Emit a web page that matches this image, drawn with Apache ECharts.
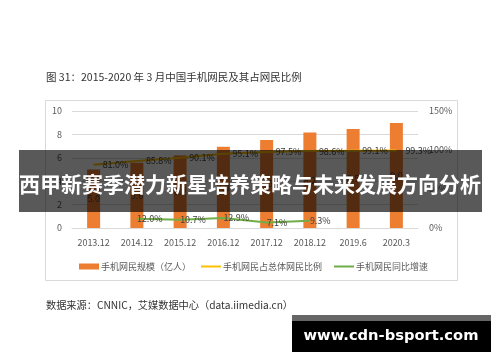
<!DOCTYPE html>
<html>
<head>
<meta charset="utf-8">
<script src="https://cdn.jsdelivr.net/npm/echarts@6/dist/echarts.min.js"></script>
<style>
html,body{margin:0;padding:0;background:#fff;}
#c{width:500px;height:362px;}
</style>
</head>
<body>
<div id="c"></div>
<script>
const categories = ['2013.12','2014.12','2015.12','2016.12','2017.12','2018.12','2019.6','2020.3'];
const mobileUsers = [5.00, 5.57, 6.20, 6.95, 7.53, 8.17, 8.47, 8.97];
const shareOfUsers = [81.0, 85.8, 90.1, 95.1, 97.5, 98.6, 99.1, 99.3];
const yoyGrowth = [null, 12.0, 10.7, 12.9, 7.1, 9.3, null, null];
const leftTicks = {min: 0, max: 10, interval: 2};
const rightTicks = {min: 0, max: 150, interval: 50};
const seriesNames = ['手机网民规模（亿人）', '手机网民占总体网民比例', '手机网民同比增速'];
const titleText = '图 31：2015-2020 年 3 月中国手机网民及其占网民比例';
const sourceText = '数据来源：CNNIC，艾媒数据中心（data.iimedia.cn）';
const bannerText = '西甲新赛季潜力新星培养策略与未来发展方向分析';
const urlText = 'www.cdn-bsport.com';

const FONT = '"Noto Sans CJK SC", "Noto Sans", sans-serif';
const chart = echarts.init(document.getElementById('c'), null, {renderer: 'canvas'});
const axisLabel = {color: '#595959', fontSize: 9, fontFamily: FONT};
const lineIcon = 'path://M0,0H20V2H0Z';
const legendText = {color: '#595959', fontSize: 9, fontFamily: FONT, padding: [0,0,0,-3]};

chart.setOption({
  animation: false,
  textStyle: {fontFamily: FONT},
  title: {
    text: titleText, left: 46, top: 72, padding: 0,
    textStyle: {fontSize: 10.5, fontWeight: 'normal', color: '#333', fontFamily: FONT}
  },
  grid: {left: 72, right: 82, top: 111, bottom: 134},
  legend: [
    {left: 79, top: 262, padding: 0, itemWidth: 20, itemHeight: 6, itemGap: 0,
     data: [{name: seriesNames[0], icon: 'rect'}], textStyle: legendText},
    {left: 201, top: 262, padding: 0, itemWidth: 20, itemHeight: 6, itemGap: 0,
     data: [{name: seriesNames[1], icon: lineIcon}], textStyle: legendText},
    {left: 334, top: 262, padding: 0, itemWidth: 20, itemHeight: 6, itemGap: 0,
     data: [{name: seriesNames[2], icon: lineIcon}], textStyle: legendText}
  ],
  xAxis: {
    type: 'category', data: categories,
    axisLine: {lineStyle: {color: '#d9d9d9'}},
    axisTick: {show: false},
    axisLabel: Object.assign({margin: 10}, axisLabel)
  },
  yAxis: [
    {type: 'value', min: leftTicks.min, max: leftTicks.max, interval: leftTicks.interval,
     axisLine: {show: false}, axisTick: {show: false},
     axisLabel: Object.assign({margin: 10}, axisLabel),
     splitLine: {lineStyle: {color: '#d9d9d9'}}},
    {type: 'value', min: rightTicks.min, max: rightTicks.max, interval: rightTicks.interval,
     axisLine: {show: false}, axisTick: {show: false},
     axisLabel: Object.assign({margin: 11, formatter: '{value}%'}, axisLabel),
     splitLine: {show: false}}
  ],
  series: [
    {name: seriesNames[0], type: 'bar', data: mobileUsers, barWidth: 13, yAxisIndex: 0,
     itemStyle: {color: '#ED7D31'},
     label: {show: true, position: 'inside', color: '#404040', fontSize: 9, fontFamily: FONT,
             formatter: p => p.value.toFixed(1)}},
    {name: seriesNames[1], type: 'line', data: shareOfUsers, yAxisIndex: 1,
     symbol: 'circle', symbolSize: 0, showSymbol: true,
     lineStyle: {color: '#FFC000', width: 2}, itemStyle: {color: '#FFC000'},
     label: {show: true, position: 'right', distance: 9, color: '#404040', fontSize: 9, fontFamily: FONT,
             formatter: p => p.value.toFixed(1) + '%'}},
    {name: seriesNames[2], type: 'line', data: yoyGrowth, yAxisIndex: 1,
     symbol: 'circle', symbolSize: 0, showSymbol: true,
     lineStyle: {color: '#70AD47', width: 2}, itemStyle: {color: '#70AD47'},
     label: {show: true, position: 'right', distance: 0, color: '#404040', fontSize: 9, fontFamily: FONT,
             formatter: p => p.value == null ? '' : p.value.toFixed(1) + '%'}}
  ],
  graphic: [
    {type: 'rect', shape: {x: 45.5, y: 100.5, width: 412, height: 180}, silent: true,
     style: {fill: null, stroke: '#d9d9d9', lineWidth: 1}, z: 0},
    {type: 'text', x: 46, y: 300, silent: true,
     style: {text: sourceText, fontSize: 10.2, fill: '#333', fontFamily: FONT}},
    {type: 'rect', shape: {x: 19, y: 150, width: 463, height: 62}, silent: true,
     style: {fill: 'rgba(0,0,0,0.65)'}, z: 100},
    {type: 'text', x: 250, y: 184, silent: true, z: 101,
     style: {text: bannerText, fontSize: 21, fontWeight: 'bold', fill: '#fff', fontFamily: FONT,
             align: 'center', verticalAlign: 'middle'}},
    {type: 'rect', shape: {x: 292, y: 315, width: 199, height: 6}, silent: true,
     style: {fill: '#666'}, z: 100},
    {type: 'rect', shape: {x: 292, y: 321, width: 199, height: 31}, silent: true,
     style: {fill: '#000'}, z: 100},
    {type: 'text', x: 391, y: 336, silent: true, z: 101,
     style: {text: urlText, fontSize: 14.7, fontWeight: 'bold', fill: '#fff',
             fontFamily: '"DejaVu Sans", Verdana, sans-serif', align: 'center', verticalAlign: 'middle'}}
  ]
});
</script>
</body>
</html>
